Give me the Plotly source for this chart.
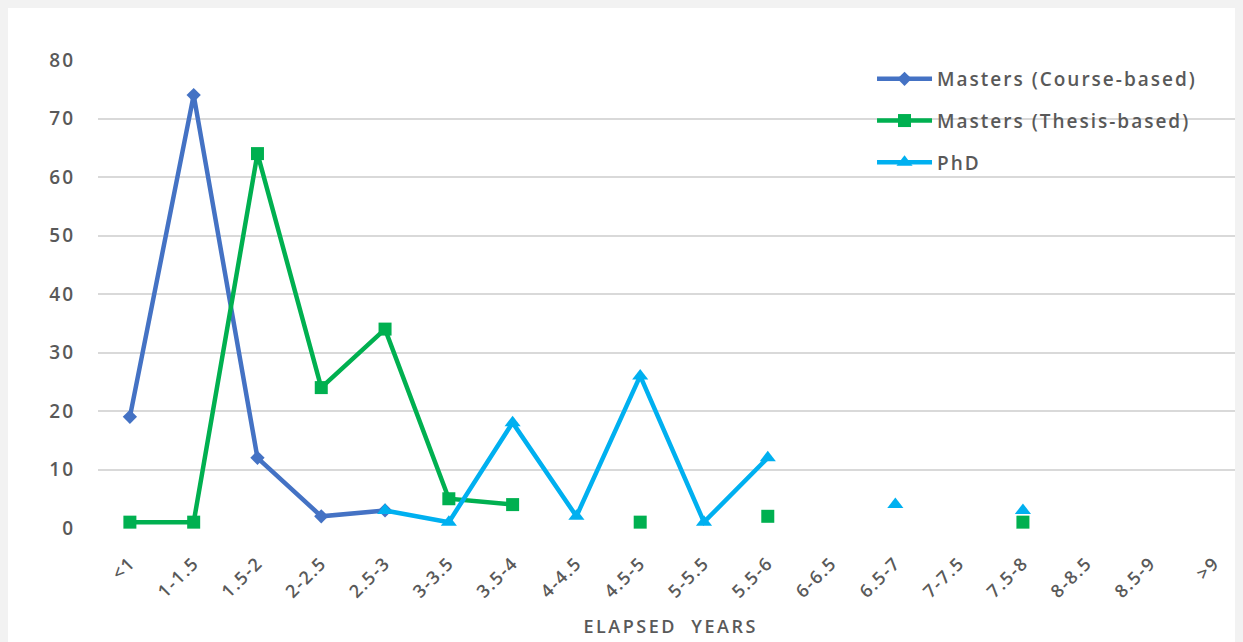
import plotly.graph_objects as go

categories = ["<1", "1-1.5", "1.5-2", "2-2.5", "2.5-3", "3-3.5", "3.5-4", "4-4.5", "4.5-5",
              "5-5.5", "5.5-6", "6-6.5", "6.5-7", "7-7.5", "7.5-8", "8-8.5", "8.5-9", ">9"]
course_based = [19, 74, 12, 2, 3, None, None, None, None, None, None, None, None, None, None, None, None, None]
thesis_based = [1, 1, 64, 24, 34, 5, 4, None, 1, None, 2, None, None, None, 1, None, None, None]
phd = [None, None, None, None, 3, 1, 18, 2, 26, 1, 12, None, 4, None, 3, None, None, None]
y_ticks = [0, 10, 20, 30, 40, 50, 60, 70, 80]

series = [
    ("Masters (Course-based)", course_based, "#4472C4", "diamond", 11),
    ("Masters (Thesis-based)", thesis_based, "#00B050", "square", 13),
    ("PhD", phd, "#00B0F0", "triangle-up", 14),
]

fig = go.Figure()
for i, (name, vals, color, sym, size) in enumerate(series):
    fig.add_trace(go.Scatter(
        x=categories, y=vals, name=name, mode="lines+markers",
        line=dict(color=color, width=4.5), connectgaps=False,
        marker=dict(symbol=sym, size=size, color=color),
        legendgroup=f"g{i}", cliponaxis=False,
    ))

font_family = "Open Sans"
gray = "#595959"

fig.update_layout(
    width=1235, height=634,
    margin=dict(l=90, r=0, t=52, b=114),
    paper_bgcolor="white", plot_bgcolor="white",
    showlegend=True,
    legend=dict(
        x=0.676, y=1.0, xanchor="left", yanchor="top",
        font=dict(family=font_family, size=19, color=gray, weight=600),
        tracegroupgap=14, itemwidth=55, bgcolor="rgba(0,0,0,0)",
    ),
    xaxis=dict(
        type="category", range=[-0.5, 17.45], showgrid=False, showline=False,
        zeroline=False, tickangle=-45, ticks="", ticklabelstandoff=20,
        tickfont=dict(family=font_family, size=18, color=gray, weight=600),
    ),
    yaxis=dict(
        range=[0, 80], tickvals=y_ticks, showgrid=True, gridcolor="#d9d9d9",
        gridwidth=1.5, zeroline=False, showline=False, ticks="",
        ticklabelstandoff=22,
        tickfont=dict(family=font_family, size=19, color=gray, weight=600),
    ),
    annotations=[dict(
        text="ELAPSED  YEARS", xref="paper", yref="paper", x=0.5, y=-0.21,
        xanchor="center", yanchor="middle", showarrow=False,
        font=dict(family=font_family, size=18, color=gray, weight=600),
    )],
)

post = """
document.body.style.background='#f2f2f2';
document.body.style.overflow='hidden';
document.body.style.margin='8px';
var d=document.getElementById('{plot_id}');
d.style.outline='1px solid #d9d9d9';
var st=document.createElement('style');
st.textContent='.legend .scrollbox{clip-path:none !important}.legendtext{letter-spacing:2px}.xtick text{letter-spacing:1.5px}.ytick text{letter-spacing:2px}.annotation-text{letter-spacing:2.5px}';
document.head.appendChild(st);
"""
fig.write_html("out.html", post_script=post)
